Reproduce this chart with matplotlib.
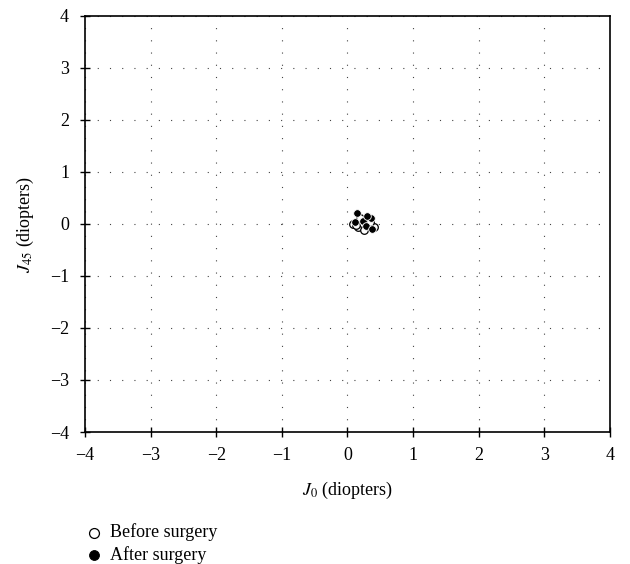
import numpy as np
import matplotlib.pyplot as plt

plt.rcParams['font.family'] = ['Liberation Serif', 'DejaVu Serif']
plt.rcParams['mathtext.fontset'] = 'stix'

# J0 / J45 vectors (diopters)
before_j0 = [0.08, 0.16, 0.22, 0.31, 0.40, 0.19, 0.25, 0.13, 0.35]
before_j45 = [0.00, -0.06, 0.02, 0.10, -0.06, 0.12, -0.12, -0.02, 0.04]
after_j0 = [0.14, 0.24, 0.36, 0.28, 0.37, 0.11, 0.30]
after_j45 = [0.21, 0.06, 0.12, -0.04, -0.10, 0.04, 0.16]

ticks = [-4, -3, -2, -1, 0, 1, 2, 3, 4]

fig = plt.figure(figsize=(6.3, 5.64), dpi=100)
ax = fig.add_axes([0.135, 0.234, 0.833, 0.738])

ax.scatter(before_j0, before_j45, s=30, facecolor='white', edgecolor='black', linewidth=0.9,
           label='Before surgery', zorder=3)
ax.scatter(after_j0, after_j45, s=30, facecolor='black', edgecolor='white', linewidth=0.6,
           zorder=4)
# legend proxy for filled markers (black rim so it shows full size)
ax.scatter([], [], s=30, facecolor='black', edgecolor='black', linewidth=0.6,
           label='After surgery')

ax.set_xlim(-4, 4)
ax.set_ylim(-4, 4)
ax.set_xticks(ticks)
ax.set_yticks(ticks)
ax.set_xticklabels([str(t).replace('-', '\u2212') for t in ticks])
ax.set_yticklabels([str(t).replace('-', '\u2212') for t in ticks])
ax.grid(True, linestyle=(0, (1, 10)), color='#444444', linewidth=0.8)
ax.tick_params(direction='inout', length=7, width=1, labelsize=13)
ax.tick_params(axis='x', pad=7)
ax.tick_params(axis='y', pad=8)
for s in ax.spines.values():
    s.set_linewidth(1.2)

ax.set_xlabel('$J_0$ (diopters)', fontsize=13, labelpad=12)
ax.set_ylabel('$J_{45}$ (diopters)', fontsize=13, labelpad=10)

fig.legend(loc='upper left', bbox_to_anchor=(0.12, 0.088), frameon=False, fontsize=13,
           handletextpad=0.4, labelspacing=0.25, handlelength=1, borderpad=0, markerscale=1.3)

fig.savefig('out.png', dpi=100)
